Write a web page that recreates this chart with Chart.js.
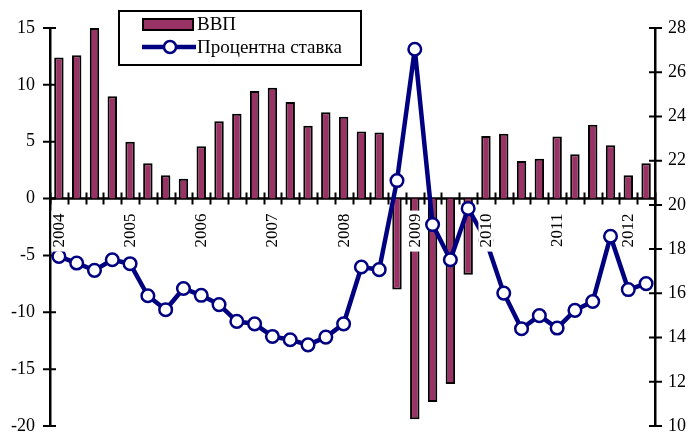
<!DOCTYPE html>
<html>
<head>
<meta charset="utf-8">
<style>
  html, body { margin: 0; padding: 0; background: #ffffff; }
  #wrap { width: 689px; height: 432px; position: relative; }
</style>
<script src="https://cdn.jsdelivr.net/npm/chart.js@4/dist/chart.umd.min.js"></script>
</head>
<body>
<div id="wrap"><canvas id="chart" width="689" height="432"></canvas></div>
<script>
// Quarterly observations, 2004 Q1 – 2012 Q2
const quarters = [
  '2004-1','2004-2','2004-3','2004-4',
  '2005-1','2005-2','2005-3','2005-4',
  '2006-1','2006-2','2006-3','2006-4',
  '2007-1','2007-2','2007-3','2007-4',
  '2008-1','2008-2','2008-3','2008-4',
  '2009-1','2009-2','2009-3','2009-4',
  '2010-1','2010-2','2010-3','2010-4',
  '2011-1','2011-2','2011-3','2011-4',
  '2012-1','2012-2'
];

// Year captions shown under the first quarter of each year
const yearTicks = [
  '2004','','','',
  '2005','','','',
  '2006','','','',
  '2007','','','',
  '2008','','','',
  '2009','','','',
  '2010','','','',
  '2011','','','',
  '2012',''
];

// Real GDP growth, % y/y (left axis)
const gdpGrowth = [
  12.4, 12.6, 15.0, 9.0,
  5.0, 3.1, 2.05, 1.75,
  4.6, 6.8, 7.45, 9.45,
  9.75, 8.5, 6.4, 7.6,
  7.2, 5.9, 5.8, -8.0,
  -19.4, -17.9, -16.3, -6.7,
  5.5, 5.7, 3.3, 3.5,
  5.45, 3.9, 6.5, 4.7,
  2.05, 3.1
];

// Lending interest rate, % (right axis)
const interestRate = [
  17.67, 17.37, 17.04, 17.52,
  17.34, 15.89, 15.26, 16.22,
  15.91, 15.49, 14.73, 14.62,
  14.05, 13.9, 13.67, 14.02,
  14.62, 17.19, 17.07, 21.1,
  27.04, 19.11, 17.52, 19.84,
  18.4, 16.01, 14.4, 14.99,
  14.43, 15.23, 15.63, 18.58,
  16.17, 16.44
];

const leftTicks = { min: -20, max: 15, step: 5 };
const rightTicks = { min: 10, max: 28, step: 2 };

const BAR_COLOR = '#993366';
const LINE_COLOR = '#000080';
const FONT = 'Liberation Serif, "Times New Roman", serif';

// Category axis line at zero growth plus tick marks crossing every axis (under the data)
const crossTicks = {
  id: 'crossTicks',
  beforeDatasetsDraw(chart) {
    const { ctx, chartArea, scales } = chart;
    const x = scales.x, yl = scales.y, yr = scales.y1;
    const y0 = yl.getPixelForValue(0);
    ctx.save();
    ctx.strokeStyle = '#000';
    ctx.lineWidth = 2.5;
    ctx.beginPath();
    ctx.moveTo(chartArea.left, y0);
    ctx.lineTo(chartArea.right, y0);
    ctx.stroke();

    ctx.lineWidth = 2;
    ctx.beginPath();
    const n = quarters.length;
    for (let k = 0; k <= n; k++) {
      const px = Math.round(x.left + k * x.width / n) + 0.5;
      ctx.moveTo(px, y0 - 6);
      ctx.lineTo(px, y0 + 6);
    }
    yl.ticks.forEach(t => {
      const py = yl.getPixelForValue(t.value);
      ctx.moveTo(chartArea.left - 7, py);
      ctx.lineTo(chartArea.left + 6, py);
    });
    yr.ticks.forEach(t => {
      const py = yr.getPixelForValue(t.value);
      ctx.moveTo(chartArea.right - 6, py);
      ctx.lineTo(chartArea.right + 7, py);
    });
    ctx.stroke();
    ctx.restore();
  }
};

// Vertical year captions on white boxes, drawn over the bars and the line
const yearLabels = {
  id: 'yearLabels',
  afterDatasetsDraw(chart) {
    const { ctx, scales } = chart;
    const y0 = scales.y.getPixelForValue(0);
    ctx.save();
    ctx.font = '17px ' + FONT;
    yearTicks.forEach((label, i) => {
      if (!label) return;
      const px = scales.x.getPixelForValue(i);
      ctx.fillStyle = '#fff';
      ctx.fillRect(px - 7.5, y0 + 12, 15, 41);
      ctx.fillStyle = '#000';
      ctx.save();
      ctx.translate(px + 0.5, y0 + 15);
      ctx.rotate(-Math.PI / 2);
      ctx.textAlign = 'right';
      ctx.textBaseline = 'middle';
      ctx.fillText(label, 0, 0);
      ctx.restore();
    });
    ctx.restore();
  }
};

// Boxed legend in the upper left of the plot
const boxedLegend = {
  id: 'boxedLegend',
  afterDraw(chart) {
    const { ctx } = chart;
    const [bars, line] = chart.data.datasets;
    ctx.save();
    ctx.fillStyle = '#fff';
    ctx.fillRect(119, 11, 242, 54);
    ctx.strokeStyle = '#000';
    ctx.lineWidth = 2;
    ctx.strokeRect(119, 11, 242, 54);

    ctx.fillStyle = BAR_COLOR;
    ctx.fillRect(143, 19, 50, 11);
    ctx.strokeRect(143, 19, 50, 11);

    ctx.strokeStyle = LINE_COLOR;
    ctx.lineWidth = 4.5;
    ctx.beginPath();
    ctx.moveTo(142, 47);
    ctx.lineTo(196, 47);
    ctx.stroke();
    ctx.beginPath();
    ctx.arc(170, 47, 6, 0, Math.PI * 2);
    ctx.fillStyle = '#fff';
    ctx.fill();
    ctx.lineWidth = 2.5;
    ctx.stroke();

    ctx.fillStyle = '#000';
    ctx.font = '19px ' + FONT;
    ctx.textAlign = 'left';
    ctx.textBaseline = 'middle';
    ctx.fillText(bars.label, 197, 25);
    ctx.fillText(line.label, 197, 48);
    ctx.restore();
  }
};

new Chart(document.getElementById('chart'), {
  data: {
    labels: quarters,
    datasets: [
      {
        type: 'bar',
        label: 'ВВП',
        data: gdpGrowth,
        yAxisID: 'y',
        backgroundColor: BAR_COLOR,
        borderColor: '#000',
        borderWidth: 2,
        barPercentage: 0.53,
        categoryPercentage: 1,
        order: 1
      },
      {
        type: 'line',
        label: 'Процентна ставка',
        data: interestRate,
        yAxisID: 'y1',
        borderColor: LINE_COLOR,
        borderWidth: 4.5,
        borderJoinStyle: 'round',
        pointRadius: 6.3,
        pointBorderWidth: 2.5,
        pointBackgroundColor: '#fff',
        pointBorderColor: LINE_COLOR,
        tension: 0,
        order: 0
      }
    ]
  },
  options: {
    responsive: false,
    animation: false,
    events: [],
    layout: { autoPadding: false, padding: { top: 28, bottom: 6, left: 0, right: 0 } },
    plugins: { legend: { display: false }, tooltip: { enabled: false } },
    scales: {
      x: {
        type: 'category',
        display: false,
        offset: true
      },
      y: {
        type: 'linear',
        position: 'left',
        min: leftTicks.min,
        max: leftTicks.max,
        ticks: { stepSize: leftTicks.step, color: '#000', padding: 15, font: { family: FONT, size: 18 } },
        grid: { display: false, drawTicks: false },
        border: { display: true, color: '#000', width: 2.5 },
        afterFit(s) { s.width = 50; s.paddingTop = 0; s.paddingBottom = 0; }
      },
      y1: {
        type: 'linear',
        position: 'right',
        min: rightTicks.min,
        max: rightTicks.max,
        ticks: { stepSize: rightTicks.step, color: '#000', padding: 13, font: { family: FONT, size: 18 } },
        grid: { display: false, drawTicks: false },
        border: { display: true, color: '#000', width: 2.5 },
        afterFit(s) { s.width = 34; s.paddingTop = 0; s.paddingBottom = 0; }
      }
    }
  },
  plugins: [crossTicks, yearLabels, boxedLegend]
});
</script>
</body>
</html>
